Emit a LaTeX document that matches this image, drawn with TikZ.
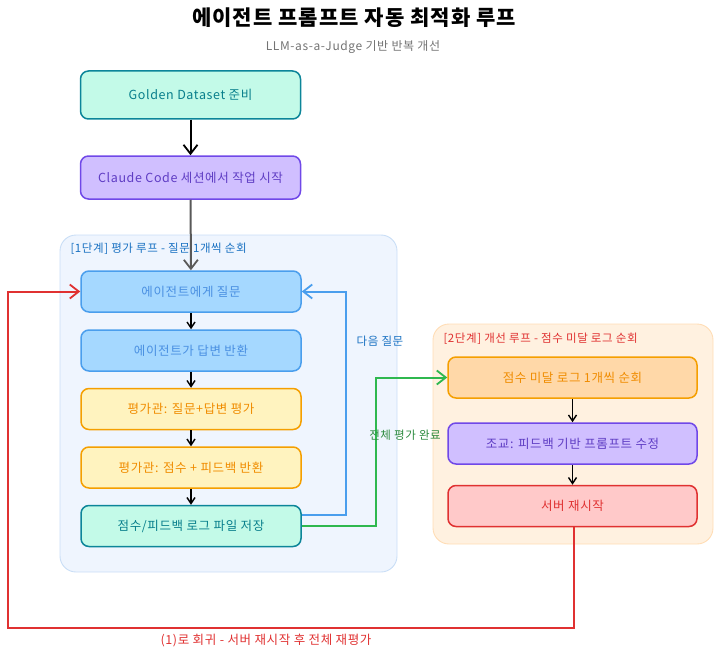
\documentclass[tikz,border=0pt]{standalone}
\usepackage{fontspec}
\setmainfont{Noto Sans CJK KR}[LetterSpace=5]
\usetikzlibrary{arrows.meta,calc}
\definecolor{tealF}{HTML}{C3FAE8}\definecolor{tealS}{HTML}{0C8599}\definecolor{tealT}{HTML}{087F8C}
\definecolor{purF}{HTML}{D0BFFF}\definecolor{purS}{HTML}{7048E8}\definecolor{purT}{HTML}{5F3DC4}
\definecolor{bluF}{HTML}{A5D8FF}\definecolor{bluS}{HTML}{4A9EED}\definecolor{bluT}{HTML}{4A90E2}
\definecolor{yelF}{HTML}{FFF3BF}\definecolor{yelS}{HTML}{F59F00}\definecolor{yelT}{HTML}{F08C00}
\definecolor{orgF}{HTML}{FFD8A8}
\definecolor{redF}{HTML}{FFC9C9}\definecolor{redS}{HTML}{E03131}
\definecolor{g1F}{HTML}{EFF5FE}\definecolor{g1S}{HTML}{C9DEF6}
\definecolor{g2F}{HTML}{FFF1E0}\definecolor{g2S}{HTML}{FFDDB5}
\definecolor{grnS}{HTML}{2FB84F}\definecolor{grnT}{HTML}{2B8A3E}
\definecolor{labB}{HTML}{1971C2}
\begin{document}
\begin{tikzpicture}[x=1pt,y=-1pt,
  box/.style={draw, line width=1.5pt, rounded corners=8pt, align=center, font=\fontsize{12.5}{14}\selectfont, inner sep=0pt},
  lbox/.style={box, minimum width=220pt, minimum height=41pt},
  rbox/.style={box, minimum width=249pt, minimum height=41pt},
  grp/.style={line width=0.9pt, rounded corners=16pt},
  blk/.style={draw=black, line width=1.4pt, -{Straight Barb[length=6pt,width=8pt,line width=1.4pt]}},
  big/.style={line width=2pt, -{Straight Barb[length=9pt,width=14pt,line width=1.8pt]}},
  glab/.style={anchor=west, font=\fontsize{11.5}{13}\selectfont},
  alab/.style={font=\fontsize{11.5}{13}\selectfont},
  ]
\useasboundingbox (0,0) rectangle (720,658);
% title
\node[font=\fontsize{21}{25}\selectfont\bfseries] (title) at (354,18) {에이전트 프롬프트 자동 최적화 루프};
\node[font=\fontsize{12}{14}\selectfont, text=black!55] (sub) at (353,47) {LLM-as-a-Judge 기반 반복 개선};
% groups
\draw[grp, fill=g1F, draw=g1S] (60,235) rectangle (397,572);
\node[glab, text=labB] (g1lab) at (67,249) {[1단계] 평가 루프 - 질문 1개씩 순회};
\draw[grp, fill=g2F, draw=g2S] (433,324) rectangle (713,544);
\node[glab, text=redS] (g2lab) at (440,339) {[2단계] 개선 루프 - 점수 미달 로그 순회};
% top boxes
\node[box, fill=tealF, draw=tealS, text=tealT, minimum width=220pt, minimum height=48pt] (golden) at (190.5,95) {Golden Dataset 준비};
\node[box, fill=purF, draw=purS, text=purT, minimum width=220pt, minimum height=43pt] (claude) at (190.5,177.5) {Claude Code 세션에서 작업 시작};
% stage 1
\node[lbox, fill=bluF, draw=bluS, text=bluT] (q1) at (191,291.5) {에이전트에게 질문};
\node[lbox, fill=bluF, draw=bluS, text=bluT] (q2) at (191,350.5) {에이전트가 답변 반환};
\node[lbox, fill=yelF, draw=yelS, text=yelT] (q3) at (191,409) {평가관: 질문+답변 평가};
\node[lbox, fill=yelF, draw=yelS, text=yelT] (q4) at (191,467.5) {평가관: 점수 + 피드백 반환};
\node[lbox, fill=tealF, draw=tealS, text=tealT] (log) at (191,526) {점수/피드백 로그 파일 저장};
% stage 2
\node[rbox, fill=orgF, draw=yelS, text=yelT] (r1) at (572.5,377.5) {점수 미달 로그 1개씩 순회};
\node[rbox, fill=purF, draw=purS, text=purT] (r2) at (572.5,443.5) {조교: 피드백 기반 프롬프트 수정};
\node[rbox, fill=redF, draw=redS, text=redS] (r3) at (572.5,506) {서버 재시작};
% arrows
\draw[big, draw=black] (golden) -- (claude);
\draw[big, draw=black!65] (claude) -- (q1);
\draw[blk] (q1) -- (q2);
\draw[blk] (q2) -- (q3);
\draw[blk] (q3) -- (q4);
\draw[blk] (q4) -- (log);
\draw[blk] (r1) -- (r2);
\draw[blk] (r2) -- (r3);
\draw[big, draw=bluS] ([yshift=11pt]log.east) -- ++(44,0) |- (q1.east);
\node[alab, text=labB] (lnext) at (380,341) {다음 질문};
\draw[big, draw=grnS] (log.east) -- ++(74,0) |- (r1.west);
\node[alab, text=grnT] (ldone) at (405,435) {전체 평가 완료};
\coordinate (cbr) at (574,628);
\coordinate (cbl) at (8,628);
\draw[big, draw=redS] (r3.south -| cbr) -- (cbr) -- (cbl) |- (q1.west);
\node[font=\fontsize{12.5}{14}\selectfont, text=redS] (lback) at (266,641) {(1)로 회귀 - 서버 재시작 후 전체 재평가};
\end{tikzpicture}
\end{document}
